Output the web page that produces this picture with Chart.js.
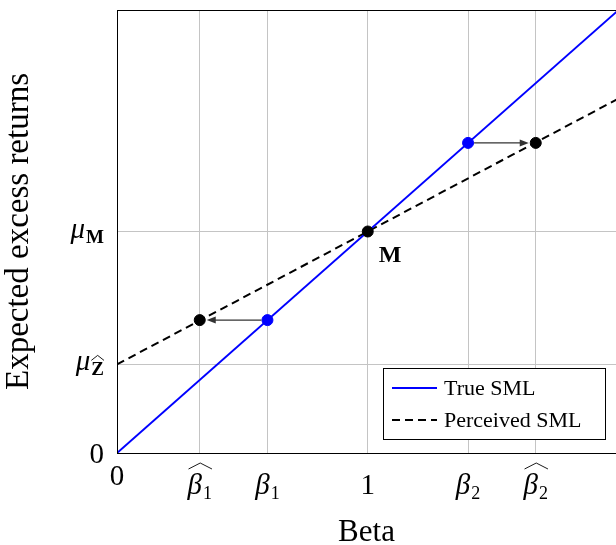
<!DOCTYPE html>
<html>
<head>
<meta charset="utf-8">
<script src="https://cdn.jsdelivr.net/npm/chart.js@4.4.1/dist/chart.umd.min.js"></script>
<style>
  html, body { margin: 0; padding: 0; background: #fff; }
  canvas { display: block; }
</style>
</head>
<body>
<canvas id="sml" width="616" height="545"></canvas>
<script>
// beta ticks on the x axis and their labels
const betaTicks = [0, 0.33, 0.6, 1, 1.4, 1.67];
const betaLabels = [
  { text: '0' },
  { text: 'β', italic: true, sub: '1', hat: true },
  { text: 'β', italic: true, sub: '1' },
  { text: '1' },
  { text: 'β', italic: true, sub: '2' },
  { text: 'β', italic: true, sub: '2', hat: true }
];
// expected return ticks on the y axis
const returnTicks = [0, 0.4, 1];
const returnLabels = [
  { text: '0' },
  { text: 'μ', italic: true, sub: 'Z', subBold: true, subHat: true },
  { text: 'μ', italic: true, sub: 'M', subBold: true }
];

const trueSml = [{ x: 0, y: 0 }, { x: 2, y: 2 }];
const perceivedSml = [{ x: 0, y: 0.4 }, { x: 2, y: 1.6 }];
const truePoints = [{ x: 0.6, y: 0.6 }, { x: 1.4, y: 1.4 }];
const perceivedPoints = [{ x: 0.33, y: 0.6 }, { x: 1, y: 1 }, { x: 1.67, y: 1.4 }];
const shiftFrom = [[0.6, 0.6], [1.4, 1.4]];
const shiftTo = [[0.33, 0.6], [1.67, 1.4]];
const marketPoint = { x: 1, y: 1, label: 'M' };

const SERIF = '"Liberation Serif", "Times New Roman", serif';

function drawHat(ctx, x0, x1, yBase, h) {
  ctx.save();
  ctx.strokeStyle = '#000';
  ctx.lineWidth = 0.9;
  ctx.beginPath();
  ctx.moveTo(x0, yBase);
  ctx.lineTo((x0 + x1) / 2, yBase - h);
  ctx.lineTo(x1, yBase);
  ctx.stroke();
  ctx.restore();
}

// draws main symbol + subscript, x is centre (align 'center') or right edge (align 'right')
function drawMathLabel(ctx, lab, x, y, align) {
  const mainFont = (lab.italic ? 'italic ' : '') + '29px ' + SERIF;
  const subFont = (lab.subBold ? 'bold 19px ' : '18px ') + SERIF;
  ctx.save();
  ctx.fillStyle = '#000';
  ctx.textBaseline = 'alphabetic';
  ctx.textAlign = 'left';
  ctx.font = mainFont;
  const wMain = ctx.measureText(lab.text).width;
  let wSub = 0;
  if (lab.sub) {
    ctx.font = subFont;
    wSub = ctx.measureText(lab.sub).width + 1;
  }
  const total = wMain + wSub;
  const left = align === 'center' ? x - total / 2 : x - total;
  ctx.font = mainFont;
  ctx.fillText(lab.text, left, y);
  if (lab.hat) drawHat(ctx, left + 1, left + total, y - 25, 6);
  if (lab.sub) {
    ctx.font = subFont;
    const sx = left + wMain + 1;
    ctx.fillText(lab.sub, sx, y + 5);
    if (lab.subHat) drawHat(ctx, sx, sx + wSub - 1, y - 10, 5);
  }
  ctx.restore();
}

const smlPlugin = {
  id: 'smlDecor',
  afterDatasetsDraw(chart) {
    const { ctx, chartArea: a, scales: { x, y } } = chart;
    ctx.save();
    // arrows showing the beta shift
    ctx.strokeStyle = '#333';
    ctx.fillStyle = '#333';
    ctx.lineWidth = 1.2;
    shiftFrom.forEach((f, i) => {
      const t = shiftTo[i];
      const x1 = x.getPixelForValue(f[0]), y1 = y.getPixelForValue(f[1]);
      const x2 = x.getPixelForValue(t[0]);
      const d = Math.sign(x2 - x1);
      const tip = x2 - d * 7;
      ctx.beginPath();
      ctx.moveTo(x1 + d * 6, y1);
      ctx.lineTo(tip - d * 6, y1);
      ctx.stroke();
      ctx.beginPath();
      ctx.moveTo(tip, y1);
      ctx.lineTo(tip - d * 9, y1 - 3.5);
      ctx.lineTo(tip - d * 9, y1 + 3.5);
      ctx.closePath();
      ctx.fill();
    });
    // frame (the right side runs off the picture)
    ctx.strokeStyle = '#000';
    ctx.lineWidth = 1;
    ctx.beginPath();
    ctx.moveTo(a.right, a.top + 0.5);
    ctx.lineTo(a.left + 0.5, a.top + 0.5);
    ctx.lineTo(a.left + 0.5, a.bottom);
    ctx.stroke();
    ctx.restore();
  },
  afterDraw(chart) {
    const { ctx, chartArea: a, scales: { x, y } } = chart;
    // tick labels
    betaTicks.forEach((v, i) => {
      const px = x.getPixelForValue(v);
      drawMathLabel(ctx, betaLabels[i], px, a.bottom + (v === 0 ? 32 : 41), 'center');
    });
    returnTicks.forEach((v, i) => {
      const py = y.getPixelForValue(v);
      const lab = returnLabels[i];
      drawMathLabel(ctx, lab, a.left - 13, py + (lab.sub ? 6 : 10), 'right');
    });
    // market portfolio label
    ctx.save();
    ctx.fillStyle = '#000';
    ctx.font = 'bold 24px ' + SERIF;
    ctx.textAlign = 'left';
    ctx.textBaseline = 'alphabetic';
    ctx.fillText(marketPoint.label, x.getPixelForValue(marketPoint.x) + 11, y.getPixelForValue(marketPoint.y) + 30);
    ctx.restore();
    // legend box
    const lx = 383, ly = 368, lw = 222, lh = 71;
    ctx.save();
    ctx.fillStyle = '#fff';
    ctx.fillRect(lx, ly, lw, lh);
    ctx.strokeStyle = '#000';
    ctx.lineWidth = 1;
    ctx.strokeRect(lx + 0.5, ly + 0.5, lw, lh);
    ctx.font = '22px ' + SERIF;
    ctx.textBaseline = 'middle';
    ctx.textAlign = 'left';
    [chart.data.datasets[2], chart.data.datasets[3]].forEach((ds, i) => {
      const yy = ly + 20 + i * 32;
      ctx.strokeStyle = ds.borderColor;
      ctx.lineWidth = 2;
      ctx.setLineDash(ds.borderDash || []);
      ctx.beginPath();
      ctx.moveTo(lx + 9, yy);
      ctx.lineTo(lx + 54, yy);
      ctx.stroke();
      ctx.setLineDash([]);
      ctx.fillStyle = '#000';
      ctx.fillText(ds.label, lx + 61, yy + 1);
    });
    ctx.restore();
  }
};

new Chart(document.getElementById('sml'), {
  type: 'scatter',
  data: {
    datasets: [
      { label: 'perceived', data: perceivedPoints, backgroundColor: '#000', borderColor: '#000', pointRadius: 5.5, pointHoverRadius: 5.5 },
      { label: 'true', data: truePoints, backgroundColor: '#0000ff', borderColor: '#0000ff', pointRadius: 5.5, pointHoverRadius: 5.5 },
      { label: 'True SML', data: trueSml, showLine: true, borderColor: '#0000ff', borderWidth: 2, pointRadius: 0 },
      { label: 'Perceived SML', data: perceivedSml, showLine: true, borderColor: '#000', borderWidth: 2, borderDash: [8, 5], pointRadius: 0 }
    ]
  },
  options: {
    responsive: false,
    animation: false,
    devicePixelRatio: 1,
    layout: { autoPadding: false, padding: { top: 10, right: 0, left: 0, bottom: 0 } },
    plugins: { legend: { display: false }, tooltip: { enabled: false } },
    scales: {
      x: {
        type: 'linear', min: 0, max: 1.99,
        afterBuildTicks: s => { s.ticks = betaTicks.map(v => ({ value: v })); },
        afterFit: s => { s.height = 92; },
        ticks: { display: false },
        grid: { color: '#c4c4c4', lineWidth: 1, drawTicks: false },
        border: { color: '#000', width: 1 },
        title: { display: true, text: 'Beta', color: '#000', font: { family: SERIF, size: 31, lineHeight: 0.8 }, padding: 0 }
      },
      y: {
        type: 'linear', min: 0, max: 2,
        afterBuildTicks: s => { s.ticks = returnTicks.map(v => ({ value: v })); },
        afterFit: s => { s.width = 117; },
        ticks: { display: false },
        grid: { color: '#c4c4c4', lineWidth: 1, drawTicks: false },
        border: { color: '#000', width: 1 },
        title: { display: true, text: 'Expected excess returns', color: '#000', font: { family: SERIF, size: 33, lineHeight: 1.2 }, padding: { top: 0, bottom: 5 } }
      }
    }
  },
  plugins: [smlPlugin]
});
</script>
</body>
</html>
